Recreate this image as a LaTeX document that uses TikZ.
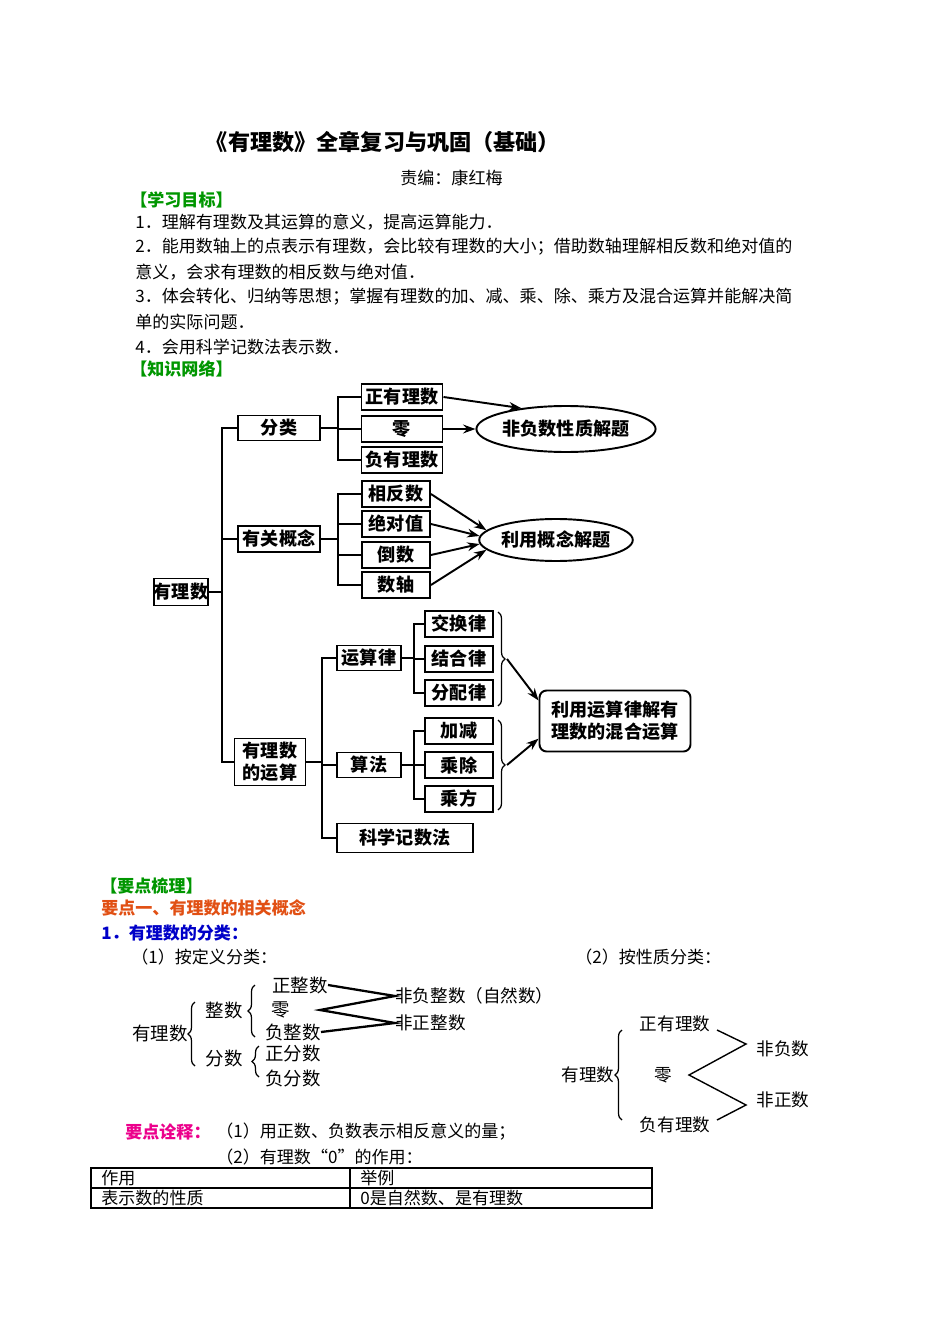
\documentclass[tikz,border=0pt]{standalone}
\usepackage{fontspec}
\setmainfont{Noto Sans CJK SC}
\usetikzlibrary{shapes.geometric,decorations.pathreplacing,arrows.meta}
\definecolor{headgreen}{RGB}{0,150,0}
\definecolor{pointred}{RGB}{225,80,20}
\definecolor{numblue}{RGB}{0,0,200}
\tikzset{
  txt/.style={anchor=west,inner sep=0pt,font=\fontsize{9.7}{12}\selectfont},
  box/.style={draw,line width=1.1pt,inner sep=0pt,font=\fontsize{10.3}{12.5}\bfseries\selectfont},
  oval/.style={draw,ellipse,line width=1.1pt,inner sep=0pt,font=\fontsize{10.3}{12.5}\bfseries\selectfont},
  link/.style={line width=1.1pt},
  arr/.style={line width=1.1pt,-{Stealth[length=7pt,width=5pt]}},
  cls/.style={inner sep=0pt,font=\fontsize{10.5}{12}\selectfont},
  brc/.style={decorate,decoration={brace,amplitude=4pt},line width=0.7pt}
}
\begin{document}
\begin{tikzpicture}[x=0.02cm,y=-0.02cm]
\useasboundingbox (0,0) rectangle (950,1344);
%Title and goals
\node[inner sep=0pt,font=\fontsize{12.6}{15}\bfseries\selectfont] (title) at (383,142) {《有理数》全章复习与巩固（基础）};
\node[txt] (editor) at (400,178) {责编：康红梅};
\node[txt,text=headgreen,font=\fontsize{9.7}{12}\bfseries\selectfont] (goals) at (130,200) {【学习目标】};
\node[txt] (g1) at (135,222) {1．理解有理数及其运算的意义，提高运算能力．};
\node[txt] (g2) at (135,247) {2．能用数轴上的点表示有理数，会比较有理数的大小；借助数轴理解相反数和绝对值的};
\node[txt] (g2b) at (135,272) {意义，会求有理数的相反数与绝对值．};
\node[txt] (g3) at (135,297) {3．体会转化、归纳等思想；掌握有理数的加、减、乘、除、乘方及混合运算并能解决简};
\node[txt] (g3b) at (135,322) {单的实际问题．};
\node[txt] (g4) at (135,347) {4．会用科学记数法表示数．};
\node[txt,text=headgreen,font=\fontsize{9.7}{12}\bfseries\selectfont] (net) at (130,369) {【知识网络】};
%Knowledge network
\node[box,minimum width=1.04cm,minimum height=0.54cm] (root) at (181,592) {有理数};
\node[box,minimum width=1.64cm,minimum height=0.5cm] (sort) at (279,428) {分类};
\node[box,minimum width=1.64cm,minimum height=0.52cm] (concept) at (279,539) {有关概念};
\node[box,minimum width=1.42cm,minimum height=0.94cm,align=center] (oper) at (270,762) {有理数\\的运算};
\foreach \n/\t/\y in {pos/正有理数/397,zero/零/429,neg/负有理数/460}
  \node[box,minimum width=1.62cm,minimum height=0.52cm] (\n) at (402,\y) {\t};
\node[oval,minimum width=3.24cm,minimum height=0.92cm] (nonneg) at (566,429) {非负数性质解题};
\foreach \n/\t/\y in {opp/相反数/494,abs/绝对值/524,rec/倒数/555,axis/数轴/585}
  \node[box,minimum width=1.36cm,minimum height=0.52cm] (\n) at (396,\y) {\t};
\node[oval,minimum width=2.72cm,minimum height=0.84cm] (useconc) at (556,540) {利用概念解题};
\node[box,minimum width=1.28cm,minimum height=0.5cm] (law) at (369,658) {运算律};
\node[box,minimum width=1.28cm,minimum height=0.5cm] (algo) at (369,765) {算法};
\node[box,minimum width=2.72cm,minimum height=0.58cm] (sci) at (405,838) {科学记数法};
\foreach \n/\t/\y in {comm/交换律/624,asso/结合律/659,dist/分配律/693,add/加减/731,mul/乘除/765,pow/乘方/799}
  \node[box,minimum width=1.36cm,minimum height=0.52cm] (\n) at (459,\y) {\t};
\node[box,rounded corners=4pt,minimum width=3.02cm,minimum height=1.22cm,align=center] (mixed) at (615,721) {利用运算律解有\\理数的混合运算};
%Tree lines
\draw[link] (root.east) -- (222,592);
\draw[link] (sort.west) -| (222,762) -- (oper.west);
\draw[link] (222,539) -- (concept.west);
\draw[link] (sort.east) -- (338,428);
\draw[link] (pos.west) -| (338,460) -- (neg.west);
\draw[link] (338,429) -- (zero.west);
\draw[link] (concept.east) -- (338,539);
\draw[link] (opp.west) -| (338,585) -- (axis.west);
\draw[link] (338,524) -- (abs.west);
\draw[link] (338,555) -- (rec.west);
\draw[link] (oper.east) -- (322,762);
\draw[link] (law.west) -| (322,838) -- (sci.west);
\draw[link] (322,765) -- (algo.west);
\draw[link] (law.east) -- (414,658);
\draw[link] (comm.west) -| (414,693) -- (dist.west);
\draw[link] (414,659) -- (asso.west);
\draw[link] (algo.east) -- (414,765);
\draw[link] (add.west) -| (414,799) -- (pow.west);
\draw[link] (414,765) -- (mul.west);
%Arrows
\draw[arr] (pos.east) -- (nonneg.155);
\draw[arr] (zero.east) -- (nonneg.west);
\draw[arr] (opp.east) -- (useconc.172);
\draw[arr] (abs.east) -- (useconc.177);
\draw[arr] (rec.east) -- (useconc.183);
\draw[arr] (axis.east) -- (useconc.188);
\draw[brc] (498,612) -- (498,706);
\draw[brc] (498,720) -- (498,810);
\coordinate (lawtip) at (507,659);
\coordinate (algotip) at (507,765);
\draw[arr] (lawtip) -- (mixed.165);
\draw[arr] (algotip) -- (mixed.193);
%Key points
\node[txt,text=headgreen,font=\fontsize{9.7}{12}\bfseries\selectfont] (keys) at (100,886) {【要点梳理】};
\node[txt,text=pointred,font=\fontsize{9.7}{12}\bfseries\selectfont] (point1) at (101,908) {要点一、有理数的相关概念};
\node[txt,text=numblue,font=\fontsize{9.7}{12}\bfseries\selectfont] (sec1) at (101,933) {1．有理数的分类：};
\node[txt] (bydef) at (131,957) {（1）按定义分类：};
\node[txt] (byprop) at (575,957) {（2）按性质分类：};
%Classification by definition
\node[cls] (rat) at (160,1033) {有理数};
\node[cls] (int) at (224,1010) {整数};
\node[cls] (frac) at (224,1058) {分数};
\node[cls] (pint) at (300,985) {正整数};
\node[cls] (zint) at (281,1010) {零};
\node[cls] (nint) at (293,1032) {负整数};
\node[cls] (pfrac) at (293,1053) {正分数};
\node[cls] (nfrac) at (293,1078) {负分数};
\node[cls,anchor=west,font=\fontsize{10}{12}\selectfont] (nnint) at (395,996) {非负整数（自然数）};
\node[cls,anchor=west,font=\fontsize{10}{12}\selectfont] (npint) at (395,1023) {非正整数};
\draw[brc] (195,1066) -- (195,1002);
\draw[brc] (255,1037) -- (255,985);
\draw[brc] (259,1077) -- (259,1046);
\draw[line width=1.3pt] (pint.east) -- (nnint.west) -- (320,1010) -- (npint.west) -- (nint.east);
%Classification by property
\node[cls,font=\fontsize{10}{12}\selectfont] (rat2) at (588,1075) {有理数};
\node[cls,font=\fontsize{10}{12}\selectfont] (prat) at (675,1024) {正有理数};
\node[cls,font=\fontsize{10}{12}\selectfont] (zrat) at (663,1075) {零};
\node[cls,font=\fontsize{10}{12}\selectfont] (nrat) at (675,1125) {负有理数};
\node[cls,font=\fontsize{10}{12}\selectfont] (nonn) at (783,1049) {非负数};
\node[cls,font=\fontsize{10}{12}\selectfont] (nonp) at (783,1100) {非正数};
\draw[brc] (622,1120) -- (622,1030);
\draw[line width=0.8pt] (717,1030) -- (746,1044) -- (689,1075) -- (746,1105) -- (717,1120);
%Notes and table
\node[txt,text=magenta,font=\fontsize{9.7}{12}\bfseries\selectfont] (note) at (125,1132) {要点诠释：};
\node[txt] (n1) at (216,1132) {（1）用正数、负数表示相反意义的量；};
\node[txt] (n2) at (216,1157) {（2）有理数“0”的作用：};
\draw[line width=0.7pt] (91,1168) rectangle (652,1208);
\draw[line width=0.7pt] (91,1188) -- (652,1188);
\draw[line width=0.7pt] (350,1168) -- (350,1208);
\node[txt] (c11) at (101,1178) {作用};
\node[txt] (c12) at (360,1178) {举例};
\node[txt] (c21) at (101,1198) {表示数的性质};
\node[txt] (c22) at (360,1198) {0是自然数、是有理数};
\end{tikzpicture}
\end{document}
